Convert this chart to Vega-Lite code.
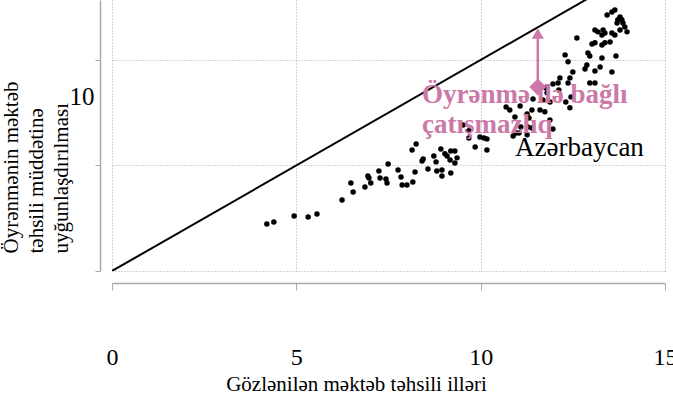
{
  "$schema": "https://vega.github.io/schema/vega-lite/v6.json",
  "width": 553,
  "height": 271,
  "autosize": {"type": "none"},
  "padding": {"left": 112, "top": 0, "right": 8, "bottom": 131},
  "config": {"view": {"stroke": null}, "font": "'Liberation Serif', 'DejaVu Serif', serif",
    "axis": {"labelFont": "'Liberation Serif', 'DejaVu Serif', serif", "titleFont": "'Liberation Serif', 'DejaVu Serif', serif"},
    "text": {"font": "'Liberation Serif', 'DejaVu Serif', serif"}},
  "datasets": {
    "diag": [{"x": 0, "y": 0}, {"x": 15, "y": 15}],
    "pts": [
      {"x": 4.20, "y": 2.23}, {"x": 4.39, "y": 2.32}, {"x": 4.94, "y": 2.61}, {"x": 5.32, "y": 2.56}, {"x": 5.56, "y": 2.70},
      {"x": 6.24, "y": 3.36}, {"x": 6.48, "y": 4.17}, {"x": 6.54, "y": 3.74}, {"x": 6.86, "y": 3.98}, {"x": 6.94, "y": 4.50},
      {"x": 6.97, "y": 4.41}, {"x": 7.02, "y": 4.17}, {"x": 7.24, "y": 4.74}, {"x": 7.27, "y": 4.41}, {"x": 7.43, "y": 4.36},
      {"x": 7.46, "y": 4.17}, {"x": 7.49, "y": 5.07}, {"x": 7.76, "y": 4.79}, {"x": 7.84, "y": 4.45}, {"x": 7.87, "y": 4.08},
      {"x": 8.00, "y": 4.08}, {"x": 8.16, "y": 4.22}, {"x": 8.22, "y": 4.69}, {"x": 8.14, "y": 5.73}, {"x": 8.25, "y": 6.02},
      {"x": 8.41, "y": 5.21}, {"x": 8.44, "y": 5.31}, {"x": 8.57, "y": 4.83}, {"x": 8.73, "y": 5.45}, {"x": 8.79, "y": 5.17},
      {"x": 8.81, "y": 4.74}, {"x": 8.92, "y": 5.78}, {"x": 8.95, "y": 4.79}, {"x": 8.95, "y": 4.50}, {"x": 9.03, "y": 5.55},
      {"x": 9.09, "y": 5.45}, {"x": 9.17, "y": 5.26}, {"x": 9.19, "y": 4.64}, {"x": 9.19, "y": 5.69}, {"x": 9.30, "y": 5.69},
      {"x": 9.30, "y": 5.12}, {"x": 9.36, "y": 5.36}, {"x": 9.52, "y": 6.92}, {"x": 9.68, "y": 6.64}, {"x": 9.68, "y": 6.30},
      {"x": 9.85, "y": 5.88}, {"x": 9.98, "y": 6.35}, {"x": 10.09, "y": 6.30}, {"x": 10.17, "y": 6.26}, {"x": 10.17, "y": 5.73},
      {"x": 13.43, "y": 12.13}, {"x": 13.56, "y": 12.27}, {"x": 13.64, "y": 12.37}, {"x": 13.78, "y": 12.04}, {"x": 13.72, "y": 11.90},
      {"x": 13.83, "y": 11.90}, {"x": 13.86, "y": 11.75}, {"x": 13.70, "y": 11.75}, {"x": 13.91, "y": 11.56}, {"x": 13.97, "y": 11.33},
      {"x": 13.78, "y": 11.42}, {"x": 13.10, "y": 11.42}, {"x": 13.18, "y": 11.33}, {"x": 13.32, "y": 11.42}, {"x": 13.37, "y": 11.28},
      {"x": 13.29, "y": 11.18}, {"x": 13.56, "y": 11.28}, {"x": 13.64, "y": 11.18}, {"x": 12.61, "y": 11.04}, {"x": 13.51, "y": 10.85},
      {"x": 13.37, "y": 10.81}, {"x": 13.10, "y": 10.81}, {"x": 13.02, "y": 10.76}, {"x": 13.29, "y": 10.71}, {"x": 12.91, "y": 10.33},
      {"x": 12.96, "y": 10.19}, {"x": 13.29, "y": 10.09}, {"x": 13.67, "y": 10.19}, {"x": 12.29, "y": 10.24}, {"x": 12.37, "y": 9.91},
      {"x": 12.88, "y": 9.76}, {"x": 12.83, "y": 9.57}, {"x": 13.24, "y": 9.67}, {"x": 13.10, "y": 9.48}, {"x": 13.56, "y": 9.43},
      {"x": 12.50, "y": 9.43}, {"x": 12.15, "y": 9.15}, {"x": 12.42, "y": 9.15}, {"x": 12.10, "y": 8.91}, {"x": 12.37, "y": 8.91},
      {"x": 12.96, "y": 8.91}, {"x": 13.10, "y": 8.91}, {"x": 11.96, "y": 8.86}, {"x": 11.77, "y": 8.67}, {"x": 11.80, "y": 8.44},
      {"x": 12.12, "y": 8.58}, {"x": 11.42, "y": 8.15}, {"x": 11.69, "y": 8.10}, {"x": 11.88, "y": 8.01}, {"x": 12.31, "y": 8.01},
      {"x": 12.45, "y": 8.25}, {"x": 12.42, "y": 7.73}, {"x": 10.69, "y": 7.77}, {"x": 10.79, "y": 7.63}, {"x": 11.07, "y": 7.82},
      {"x": 10.93, "y": 7.30}, {"x": 11.26, "y": 7.44}, {"x": 11.39, "y": 7.63}, {"x": 11.61, "y": 7.63}, {"x": 11.74, "y": 7.54},
      {"x": 11.88, "y": 7.16}, {"x": 11.96, "y": 6.73}, {"x": 11.31, "y": 7.25}, {"x": 11.28, "y": 6.82}, {"x": 11.09, "y": 6.82},
      {"x": 11.39, "y": 6.78}, {"x": 10.96, "y": 6.54}, {"x": 11.04, "y": 6.54}, {"x": 10.88, "y": 6.40}, {"x": 11.26, "y": 6.45}
    ],
    "gap": [{"x": 11.55, "y": 8.72, "y2": 11.2}],
    "head": [{"x": 11.55, "y": 11.25}],
    "aze": [{"x": 11.55, "y": 8.72}],
    "pinklab": [{"x": 8.41, "y": 8.34, "label": "Öyrənmə ilə bağlı"}, {"x": 8.41, "y": 6.92, "label": "çatışmazlıq"}],
    "blacklab": [{"x": 10.93, "y": 5.83, "label": "Azərbaycan"}]
  },
  "encoding": {
    "x": {
      "field": "x", "type": "quantitative",
      "scale": {"domain": [0, 15], "nice": false, "zero": false},
      "axis": {
        "values": [0, 5, 10, 15], "title": "Gözlənilən məktəb təhsili illəri",
        "offset": 12, "tickSize": 7, "tickColor": "#aaaaaa", "domainColor": "#aaaaaa", "domainWidth": 1.5,
        "labelPadding": 55, "labelFontSize": 24, "labelColor": "#000000", "labelFlush": false,
        "titleFontSize": 21, "titleFontWeight": "normal", "titleColor": "#000000", "titlePadding": 4,
        "titleX": 244, "titleAlign": "center",
        "gridDash": [1, 2], "gridColor": "#aaaaaa"
      }
    },
    "y": {
      "field": "y", "type": "quantitative",
      "scale": {"domain": [0, 12.84], "nice": false, "zero": false},
      "axis": {
        "values": [0, 5, 10],
        "title": ["\u00a0\u00a0\u00a0\u00a0\u00a0\u00a0Öyrənmənin məktəb", "təhsili müddətinə", "uyğunlaşdırılması"],
        "offset": 12, "tickSize": 5, "tickColor": "#aaaaaa", "domainColor": "#aaaaaa", "domainWidth": 1.5,
        "labelExpr": "datum.value == 10 ? '10' : ''", "labelOffset": 37, "labelPadding": 1,
        "labelFontSize": 25, "labelColor": "#000000",
        "titleFontSize": 21, "titleFontWeight": "normal", "titleColor": "#000000", "titleLineHeight": 25,
        "titleAngle": -90, "titleAlign": "left", "titleBaseline": "top", "titleX": -100, "titleY": 253,
        "gridDash": [1, 2], "gridColor": "#aaaaaa"
      }
    }
  },
  "layer": [
    {"data": {"name": "diag"}, "mark": {"type": "line", "clip": true, "color": "#000000", "strokeWidth": 2}},
    {"data": {"name": "pts"}, "mark": {"type": "circle", "size": 30, "color": "#000000", "opacity": 1}},
    {"data": {"name": "gap"}, "mark": {"type": "rule", "color": "#CC79A7", "strokeWidth": 2.5}, "encoding": {"y2": {"field": "y2"}}},
    {"data": {"name": "head"}, "mark": {"type": "point", "shape": "triangle-up", "size": 150, "filled": true, "color": "#CC79A7", "opacity": 1}},
    {"data": {"name": "aze"}, "mark": {"type": "point", "shape": "diamond", "size": 290, "filled": true, "color": "#CC79A7", "opacity": 1}},
    {"data": {"name": "blacklab"}, "mark": {"type": "text", "align": "left", "baseline": "middle", "fontSize": 27, "color": "#000000"}, "encoding": {"text": {"field": "label"}}},
    {"data": {"name": "pinklab"}, "mark": {"type": "text", "align": "left", "baseline": "middle", "fontSize": 27, "fontWeight": "bold", "color": "#CC79A7"}, "encoding": {"text": {"field": "label"}}}
  ]
}
